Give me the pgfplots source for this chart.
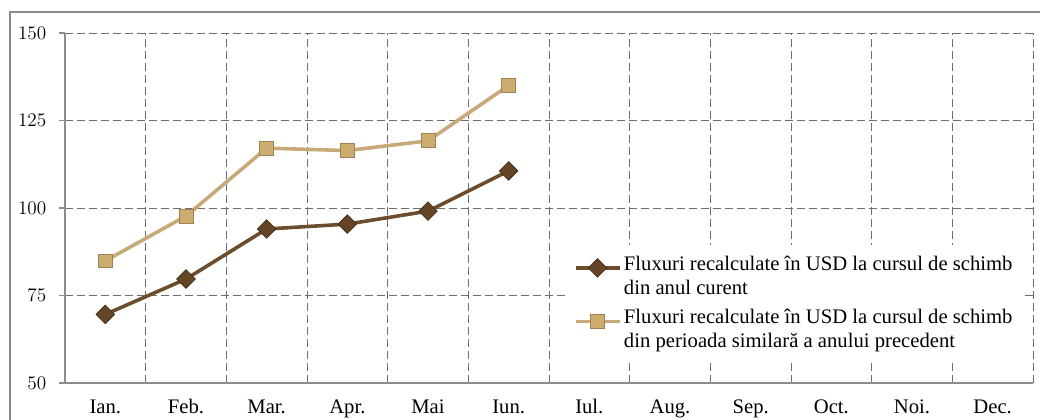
\documentclass[border=0pt]{standalone}
\usepackage{fontspec}
\setmainfont{Liberation Serif}
\usepackage{pgfplots}
\pgfplotsset{compat=1.18}
\definecolor{darkbr}{RGB}{108,78,44}
\definecolor{darkmk}{RGB}{100,70,38}
\definecolor{darkmkd}{RGB}{70,48,24}
\definecolor{tanl}{RGB}{200,170,122}
\definecolor{tanmk}{RGB}{205,172,112}
\definecolor{tanmkd}{RGB}{160,130,80}
\definecolor{gridc}{RGB}{110,110,110}
\definecolor{axc}{RGB}{140,140,140}
\begin{document}
\begin{tikzpicture}
\useasboundingbox (0,0) rectangle (780pt,-315pt);
\draw[axc, line width=0.9pt] (7.5pt,-9pt) rectangle (800pt,-330pt);
\begin{axis}[
  at={(48.75pt,-287.25pt)}, anchor=south west,
  scale only axis, width=726pt, height=262.5pt,
  xmin=0, xmax=12, ymin=50, ymax=150,
  ytick={50,75,...,150},
  xtick={0.5,1.5,...,11.5},
  xticklabels={Ian.,Feb.,Mar.,Apr.,Mai,Iun.,Iul.,Aug.,Sep.,Oct.,Noi.,Dec.},
  minor xtick={0,...,12},
  axis lines*=left,
  axis line style={axc, line width=0.9pt, -},
  tick align=outside,
  major tick length=4.5pt, minor tick length=4.5pt,
  xtick style={draw=none},
  minor x tick style={axc, line width=0.9pt},
  y tick style={axc, line width=0.9pt},
  ymajorgrids, xminorgrids,
  major grid style={gridc, line width=0.6pt, dash pattern=on 6pt off 3pt},
  minor grid style={gridc, line width=0.6pt, dash pattern=on 6pt off 3pt},
  tick label style={font=\fontsize{15.5}{18}\selectfont},
  yticklabel style={xshift=-6pt},
  xticklabel style={yshift=-4pt, text height=11pt, text depth=3pt},
  legend style={at={(0.517,0.395)}, anchor=north west, draw=none, fill=white,
    font=\fontsize{15.5}{18}\selectfont, cells={align=left}, row sep=6pt,
    inner xsep=6pt, inner ysep=6pt},
  legend cell align=left,
  legend image code/.code={
    \draw[mark repeat=2, mark phase=2, #1] plot coordinates {(0pt,6pt) (16.5pt,6pt) (33pt,6pt)};
  },
]
\addplot[darkbr, line width=2.7pt, mark=square*, mark size=4.9pt,
  mark options={rotate=45, fill=darkmk, draw=darkmkd, line width=0.6pt}]
  coordinates {(0.5,69.6) (1.5,79.7) (2.5,94.0) (3.5,95.4) (4.5,99.1) (5.5,110.6)};
\addlegendentry{Fluxuri recalculate în USD la cursul de schimb\\din anul curent}
\addplot[tanl, line width=2.7pt, mark=square*, mark size=5.2pt,
  mark options={fill=tanmk, draw=tanmkd, line width=0.6pt}]
  coordinates {(0.5,84.9) (1.5,97.7) (2.5,117.1) (3.5,116.4) (4.5,119.2) (5.5,135.0)};
\addlegendentry{Fluxuri recalculate în USD la cursul de schimb\\din perioada similară a anului precedent}
\end{axis}
\end{tikzpicture}
\end{document}
